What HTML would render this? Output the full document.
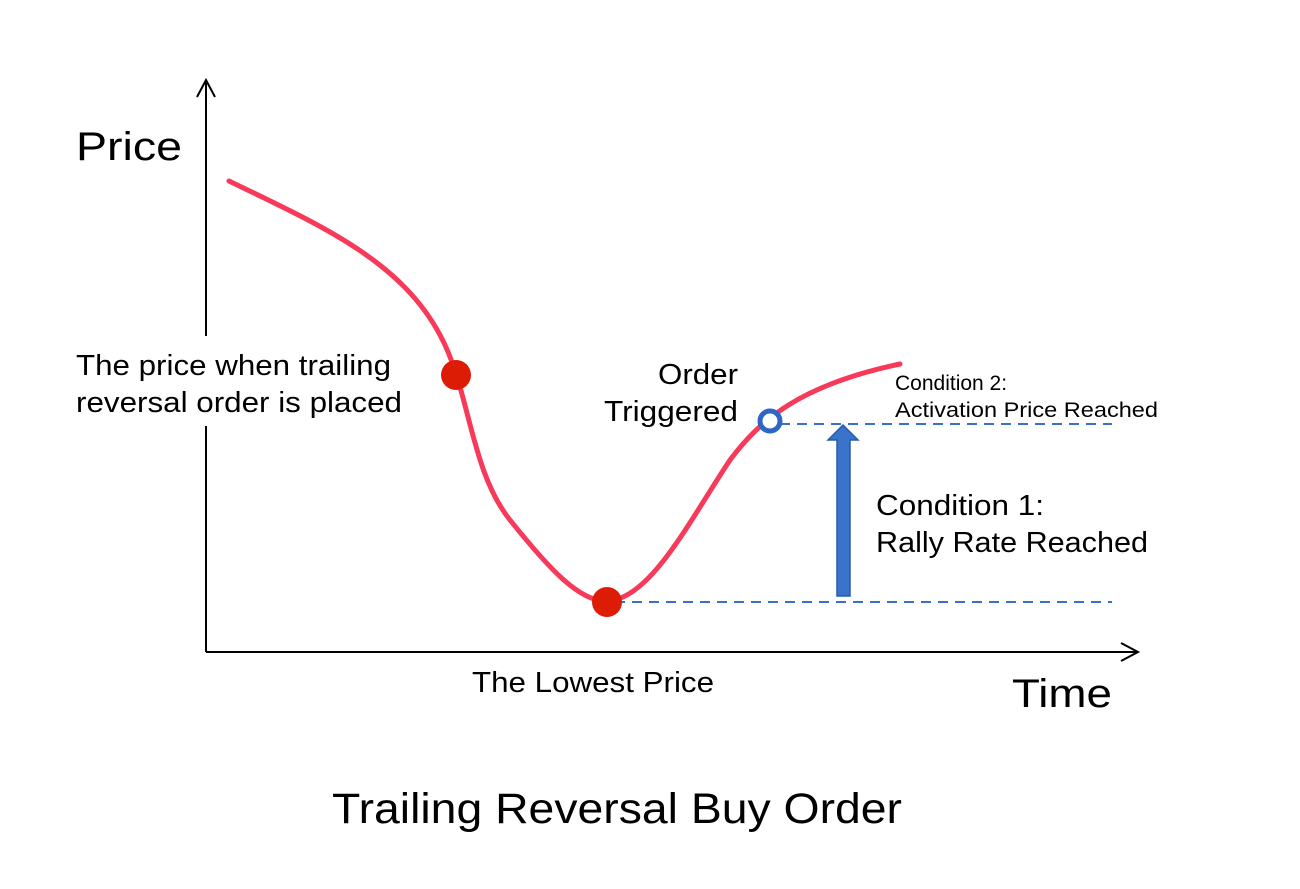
<!DOCTYPE html>
<html><head><style>body{margin:0;background:#fff}</style></head><body>
<svg width="1300" height="884" xmlns="http://www.w3.org/2000/svg" font-family="Liberation Sans, sans-serif">
<rect width="1300" height="884" fill="#fff"/>
<line x1="206" y1="80" x2="206" y2="652" stroke="#000" stroke-width="2"/>
<polyline points="197,97 206,80 215,97" fill="none" stroke="#000" stroke-width="2"/>
<line x1="206" y1="652" x2="1138" y2="652" stroke="#000" stroke-width="2"/>
<polyline points="1121,643 1138,652 1121,661" fill="none" stroke="#000" stroke-width="2"/>
<rect x="70" y="336" width="340" height="90" fill="#fff"/>
<line x1="615" y1="602" x2="1112" y2="602" stroke="#3a70c8" stroke-width="2" stroke-dasharray="10,7"/>
<line x1="780" y1="424" x2="1112" y2="424" stroke="#3a70c8" stroke-width="2" stroke-dasharray="10,7"/>
<path d="M229,181 C320,225 400,260 440,335 C470,390 470,470 510,520 C550,570 580,602 607,601 C650,600 690,520 730,460 C760,420 800,385 900,364" fill="none" stroke="#f83a5a" stroke-width="5" stroke-linecap="round"/>
<circle cx="456" cy="375" r="15" fill="#dd1c06"/>
<circle cx="607" cy="602" r="15" fill="#dd1c06"/>
<circle cx="770" cy="421" r="10" fill="#fff" stroke="#2d66c4" stroke-width="5"/>
<polygon points="837,596 850,596 850,440 858,440 843,425 828,440 837,440" fill="#3a73cc" stroke="#2a5aa8" stroke-width="1.5"/>
<text x="76" y="160" font-size="40" textLength="106" lengthAdjust="spacingAndGlyphs">Price</text>
<text x="1012" y="707" font-size="40" textLength="100" lengthAdjust="spacingAndGlyphs">Time</text>
<text x="76" y="375" font-size="29" textLength="315" lengthAdjust="spacingAndGlyphs">The price when trailing</text>
<text x="76" y="412" font-size="29" textLength="326" lengthAdjust="spacingAndGlyphs">reversal order is placed</text>
<text x="658" y="384" font-size="29" textLength="80" lengthAdjust="spacingAndGlyphs">Order</text>
<text x="604" y="421" font-size="29" textLength="134" lengthAdjust="spacingAndGlyphs">Triggered</text>
<text x="895" y="390" font-size="21">Condition 2:</text>
<text x="895" y="417" font-size="21" textLength="263" lengthAdjust="spacingAndGlyphs">Activation Price Reached</text>
<text x="876" y="515" font-size="29" textLength="168" lengthAdjust="spacingAndGlyphs">Condition 1:</text>
<text x="876" y="552" font-size="29" textLength="272" lengthAdjust="spacingAndGlyphs">Rally Rate Reached</text>
<text x="472" y="692" font-size="29" textLength="242" lengthAdjust="spacingAndGlyphs">The Lowest Price</text>
<text x="332" y="823" font-size="43" textLength="570" lengthAdjust="spacingAndGlyphs">Trailing Reversal Buy Order</text>
</svg>
</body></html>
